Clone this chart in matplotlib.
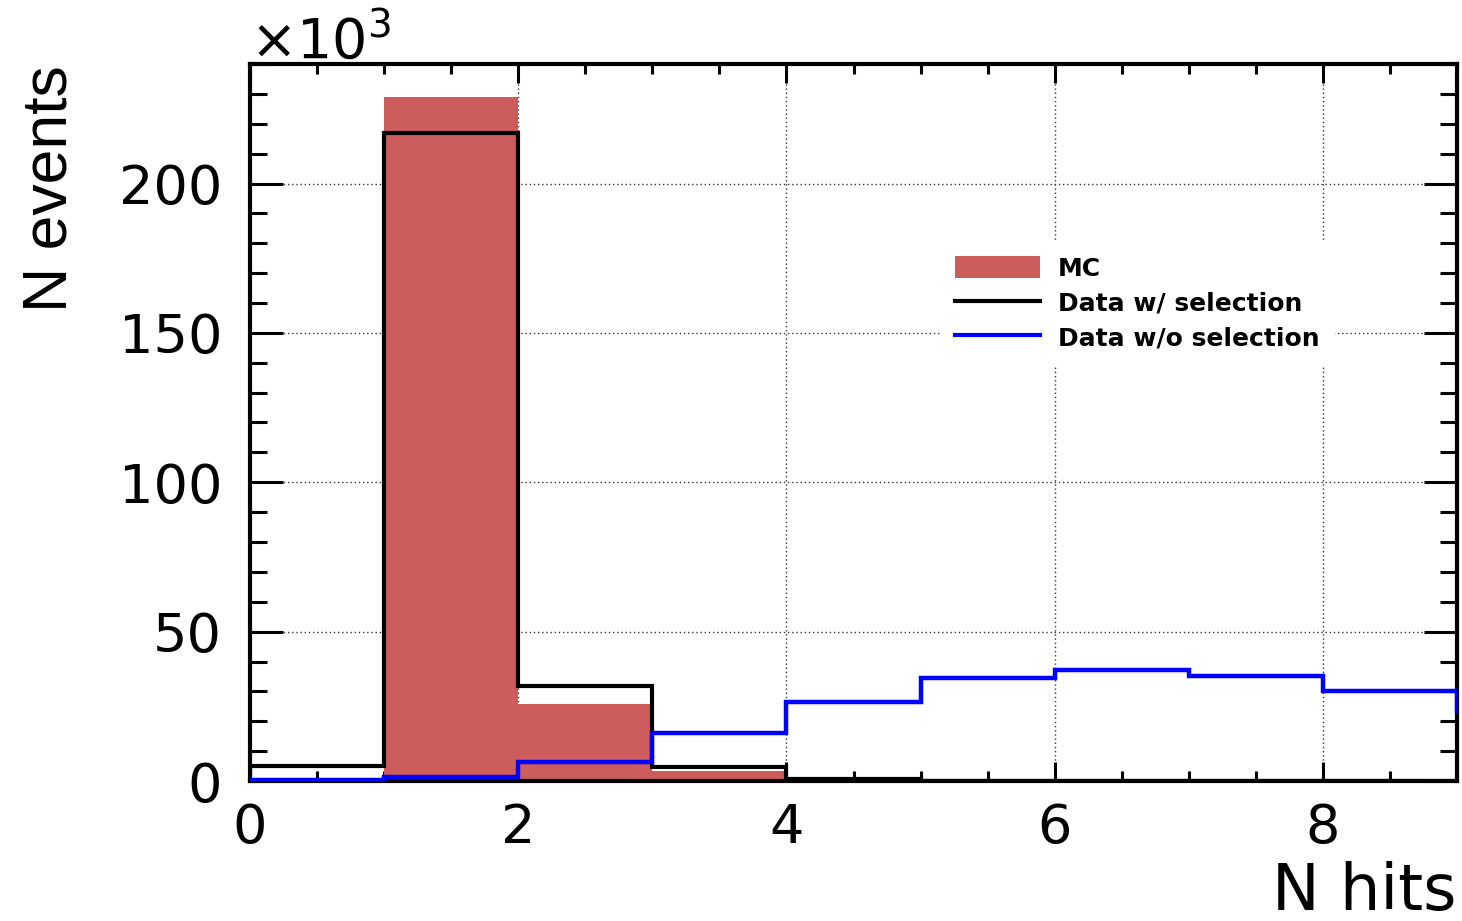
import numpy as np
import matplotlib
matplotlib.use("Agg")
from matplotlib import pyplot as plt
from matplotlib.patches import Patch
from matplotlib.lines import Line2D
from matplotlib.ticker import MultipleLocator

# Hit multiplicity histograms, contents in units of 10^3 events
edges = np.arange(0, 10)
mc = [0.0, 228.8, 25.8, 3.4, 0.0, 0.0, 0.0, 0.0, 0.0]
data_sel = [5.0, 216.8, 31.8, 4.8, 0.8, 0.0, 0.0, 0.0, 0.0]
# the unselected data has one more bin past the axis range (overflow)
edges_nosel = np.arange(0, 11)
data_nosel = [0.4, 1.3, 6.2, 16.0, 26.6, 34.4, 37.0, 35.0, 30.0, 23.5]

labels = ["MC", "Data w/ selection", "Data w/o selection"]
mc_color = "#cd5c5c"

plt.rcParams["font.family"] = ["DejaVu Sans"]
plt.rcParams["mathtext.fontset"] = "dejavusans"

W, H = 1462, 921
fig = plt.figure(figsize=(W / 100, H / 100), dpi=100)
ax = fig.add_axes([250 / W, (H - 781) / H, (1457 - 250) / W, (781 - 64) / H])

ax.stairs(mc, edges, fill=True, color=mc_color, lw=0, zorder=1.5)
ax.stairs(data_sel, edges, color="black", lw=3, zorder=2)
ax.stairs(data_nosel, edges_nosel, color="#0000ff", lw=3.2, zorder=3)

ax.set_xlim(0, 9)
ax.set_ylim(0, 240)

# ROOT-like frame: ticks inside on all four sides
ax.xaxis.set_major_locator(MultipleLocator(2))
ax.xaxis.set_minor_locator(MultipleLocator(0.5))
ax.yaxis.set_major_locator(MultipleLocator(50))
ax.yaxis.set_minor_locator(MultipleLocator(10))
ax.tick_params(which="both", direction="in", top=True, right=True, width=2.2)
ax.tick_params(axis="x", which="major", length=14, labelsize=39, pad=15)
ax.tick_params(axis="x", which="minor", length=7)
ax.tick_params(axis="y", which="major", length=24, labelsize=39, pad=20)
ax.tick_params(axis="y", which="minor", length=12)
for sp in ax.spines.values():
    sp.set_linewidth(3)

ax.grid(True, which="major", color="#333333", ls=(0, (1, 2)), lw=1.0)
ax.set_axisbelow(True)

handles = [
    Patch(facecolor=mc_color, edgecolor="none"),
    Line2D([], [], color="black", lw=3),
    Line2D([], [], color="#0000ff", lw=3),
]
leg = ax.legend(handles, labels, loc="upper left",
                bbox_to_anchor=(940 / W, (H - 241) / H),
                bbox_transform=fig.transFigure, borderaxespad=0,
                prop={"weight": "bold", "size": 18},
                handlelength=3.4, handleheight=1.0, handletextpad=0.72,
                labelspacing=0.4, borderpad=0.6,
                frameon=True, fancybox=False, framealpha=1,
                facecolor="white", edgecolor="none")

fig.text(250 / W, (H - 58) / H, r"$\times10^{3}$", fontsize=40,
         ha="left", va="baseline")
fig.text(50 / W, (H - 65) / H, "N events", rotation=90, fontsize=45,
         family=["Liberation Sans", "DejaVu Sans"], ha="center", va="top")
fig.text(1457 / W, (H - 910) / H, "N hits", fontsize=46,
         ha="right", va="baseline")

fig.savefig("out.png", dpi=100)
